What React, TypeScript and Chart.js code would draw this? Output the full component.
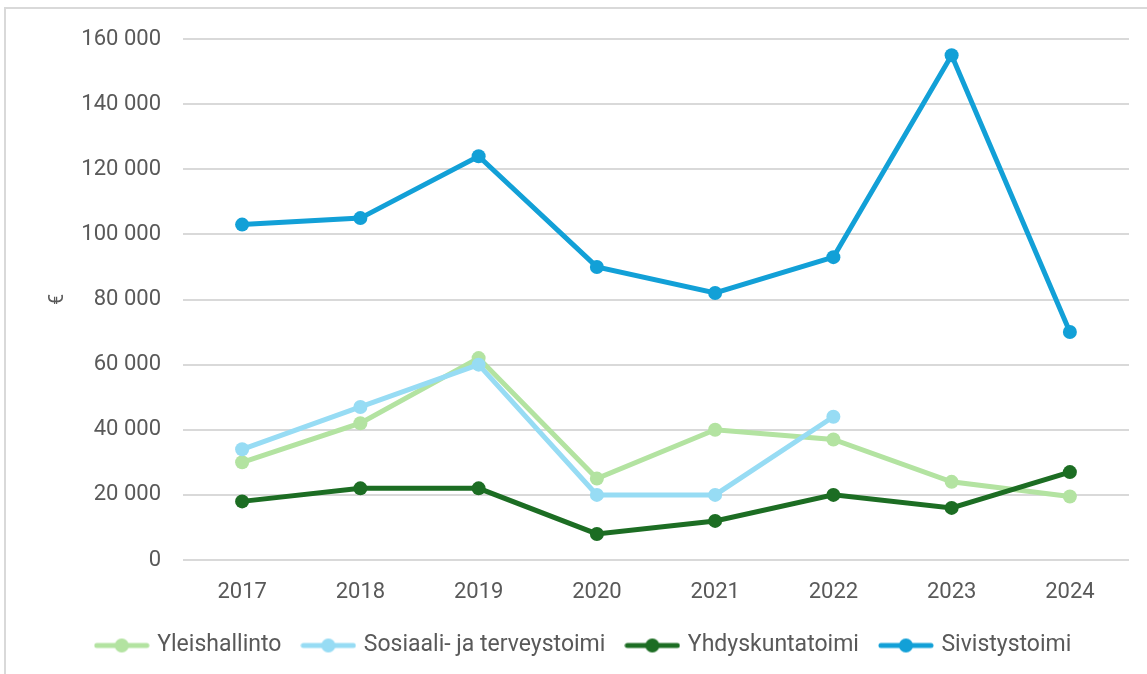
import React, { useEffect, useRef } from "react";
import { Chart, registerables } from "chart.js";

Chart.register(...registerables);

const years = ["2017", "2018", "2019", "2020", "2021", "2022", "2023", "2024"];
const yleishallinto = [30000, 42000, 62000, 25000, 40000, 37000, 24000, 19500];
const sosiaali = [34000, 47000, 60000, 20000, 20000, 44000, null, null];
const yhdyskunta = [18000, 22000, 22000, 8000, 12000, 20000, 16000, 27000];
const sivistys = [103000, 105000, 124000, 90000, 82000, 93000, 155000, 70000];

const seriesNames = ["Yleishallinto", "Sosiaali- ja terveystoimi", "Yhdyskuntatoimi", "Sivistystoimi"];
const seriesColors = ["#b3e3a1", "#97dcf4", "#1c6d23", "#12a0d7"];

const TEXT = "#595959";
const TICK_FONT = "Roboto, 'Open Sans', sans-serif";
const LEGEND_FONT = "Roboto, sans-serif";

function makeMarker(color: string): HTMLCanvasElement {
  const c = document.createElement("canvas");
  c.width = 56;
  c.height = 16;
  const ctx = c.getContext("2d")!;
  ctx.strokeStyle = color;
  ctx.lineWidth = 5;
  ctx.lineCap = "round";
  ctx.beginPath();
  ctx.moveTo(3, 8);
  ctx.lineTo(53, 8);
  ctx.stroke();
  ctx.fillStyle = color;
  ctx.beginPath();
  ctx.arc(28, 8, 7, 0, Math.PI * 2);
  ctx.fill();
  return c;
}

export default function App() {
  const ref = useRef<HTMLCanvasElement>(null);
  useEffect(() => {
    const markers = seriesColors.map(makeMarker);
    const values = [yleishallinto, sosiaali, yhdyskunta, sivistys];
    const chart = new Chart(ref.current!, {
      type: "line",
      data: {
        labels: years,
        datasets: values.map((v, i) => ({
          label: seriesNames[i],
          data: v,
          borderColor: seriesColors[i],
          backgroundColor: seriesColors[i],
          borderWidth: 5,
          pointRadius: 7,
          pointHoverRadius: 7,
          pointBorderWidth: 0,
          pointBackgroundColor: seriesColors[i],
          tension: 0,
          spanGaps: false,
          order: 4 - i,
        })),
      },
      options: {
        animation: false,
        responsive: false,
        layout: { padding: { left: 40, right: 18, top: 39, bottom: 7 } },
        scales: {
          x: {
            offset: true,
            grid: { display: false, drawTicks: false, offset: true },
            border: { display: false },
            ticks: { color: TEXT, font: { family: TICK_FONT, size: 22 }, padding: 19 },
            afterFit: (axis: any) => {
              axis.height = 51;
            },
          },
          y: {
            min: 0,
            max: 160000,
            grid: { color: "#d9d9d9", lineWidth: 2, drawTicks: false },
            border: { display: false },
            ticks: {
              stepSize: 20000,
              color: TEXT,
              padding: 22,
              font: { family: TICK_FONT, size: 22 },
              callback: (v: any) => {
                const n = Number(v);
                return n === 0 ? "0" : n.toLocaleString("en-US").replace(/,/g, " ");
              },
            },
            title: {
              display: true,
              text: "€",
              color: TEXT,
              font: { family: TICK_FONT, size: 20 },
              padding: { top: 6, bottom: 0 },
            },
            afterFit: (axis: any) => {
              axis.width = 143;
            },
          },
        },
        plugins: {
          tooltip: { enabled: false },
          legend: {
            position: "bottom",
            labels: {
              usePointStyle: true,
              pointStyleWidth: 48,
              padding: 23,
              color: TEXT,
              font: { family: LEGEND_FONT, size: 23 },
              sort: (a: any, b: any) => a.datasetIndex - b.datasetIndex,
              generateLabels: (ch: any) => {
                const items = Chart.defaults.plugins.legend.labels.generateLabels(ch);
                return items.map((it: any) => ({ ...it, pointStyle: markers[it.datasetIndex] }));
              },
            },
          },
        },
      } as any,
    });
    return () => chart.destroy();
  }, []);
  return (
    <div style={{ position: "fixed", left: 0, top: 0, width: 1147, height: 674, overflow: "hidden", background: "#fff" }}>
      <div
        style={{
          position: "absolute",
          left: 4,
          top: 7,
          width: 1200,
          height: 700,
          borderLeft: "2px solid #d9d9d9",
          borderTop: "2px solid #d9d9d9",
        }}
      />
      <canvas ref={ref} width={1147} height={674} style={{ position: "absolute", left: 0, top: 0 }} />
    </div>
  );
}
